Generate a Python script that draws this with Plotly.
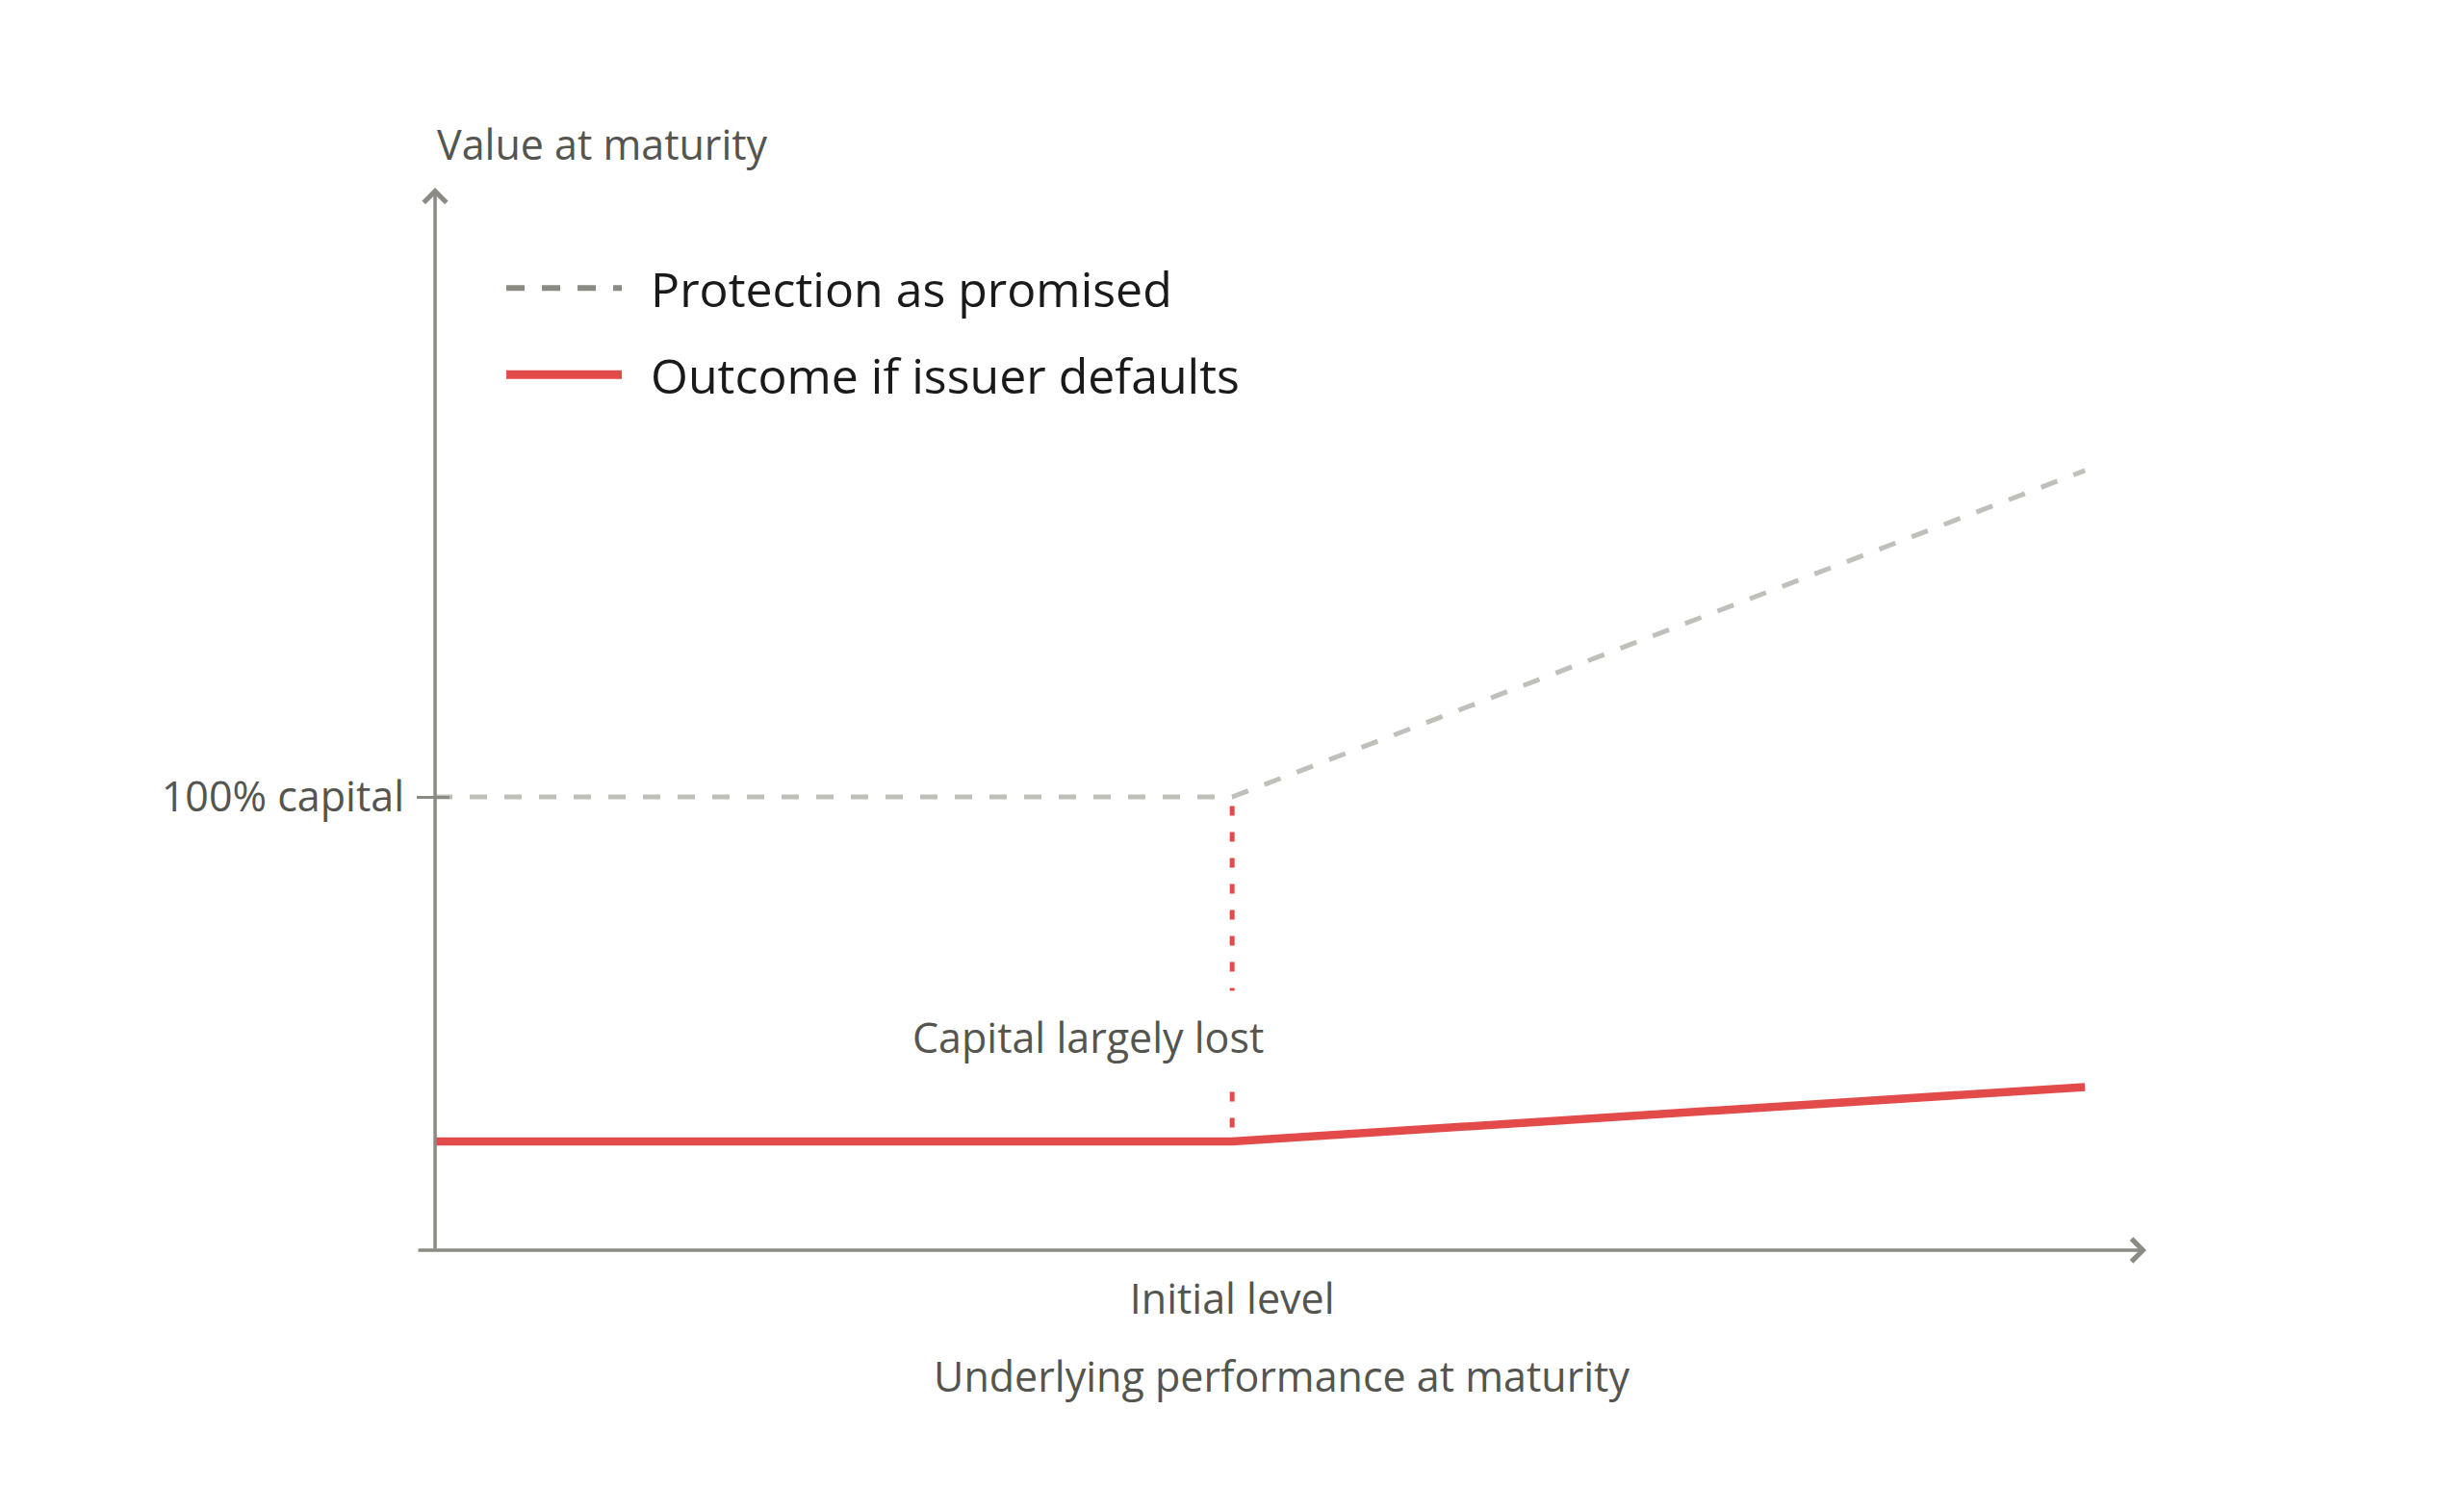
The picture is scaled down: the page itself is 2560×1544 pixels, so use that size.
import plotly.graph_objects as go

# ---- data ----
perf_x = [-100, 0, 107]            # underlying performance (origin, initial level, right end)
promised_y = [100, 100, 172]       # protection as promised
default_y = [24, 24, 36]           # outcome if issuer defaults
gap_x = [0, 0]                     # dotted gap marker at the initial level
gap_y = [98, 26]
x_tick_vals = [0]
x_tick_text = ["Initial level"]
y_tick_vals = [100]
y_tick_text = ["100% capital"]
series_names = ["Protection as promised", "Outcome if issuer defaults"]

FONT = "Open Sans"
TXT = "#55554f"
AXIS = "#8b8b83"
RED = "#e34b4b"
LIGHT = "#c0c0bb"
FS = 43

X_RANGE = [-102.3, 114.7]
Y_RANGE = [0, 234.4]

fig = go.Figure()

# main lines
fig.add_trace(go.Scatter(x=perf_x, y=promised_y, mode="lines", showlegend=False,
                         line=dict(color=LIGHT, width=5, dash="18px,18px"), hoverinfo="skip"))
fig.add_trace(go.Scatter(x=gap_x, y=gap_y, mode="lines", showlegend=False,
                         line=dict(color=RED, width=5, dash="10px,17px"), hoverinfo="skip"))
fig.add_trace(go.Scatter(x=perf_x, y=default_y, mode="lines", showlegend=False,
                         line=dict(color=RED, width=8.5), hoverinfo="skip"))

# legend entries
fig.add_trace(go.Scatter(x=[None], y=[None], mode="lines", name="\u2002" + series_names[0],
                         legendgroup="a", line=dict(color=AXIS, width=6, dash="19px,18px")))
fig.add_trace(go.Scatter(x=[None], y=[None], mode="lines", name="\u2002" + series_names[1],
                         legendgroup="b", line=dict(color=RED, width=9)))

# axes arrows
fig.add_annotation(x=X_RANGE[1], y=0, ax=X_RANGE[0], ay=0, xref="x", yref="y",
                   axref="x", ayref="y", text="", showarrow=True, arrowhead=4,
                   arrowsize=1.3, arrowwidth=3.5, arrowcolor=AXIS, standoff=0)
fig.add_annotation(x=-100, y=Y_RANGE[1], ax=-100, ay=0, xref="x", yref="y",
                   axref="x", ayref="y", text="", showarrow=True, arrowhead=4,
                   arrowsize=1.3, arrowwidth=3.5, arrowcolor=AXIS, standoff=0)

# labels
fig.add_annotation(x=-100, y=1.0408, xref="x", yref="paper", text="Value at maturity",
                   showarrow=False, xanchor="left", yanchor="middle",
                   font=dict(family=FONT, size=FS, color=TXT))
fig.add_annotation(x=-18.1, y=47.1, xref="x", yref="y", text="Capital largely lost",
                   showarrow=False, xanchor="center", yanchor="middle",
                   bgcolor="white", borderpad=18,
                   font=dict(family=FONT, size=FS, color=TXT))

fig.update_layout(
    width=2560, height=1544,
    paper_bgcolor="white", plot_bgcolor="white",
    margin=dict(l=433, r=330, t=195, b=245, pad=0, autoexpand=False),
    font=dict(family=FONT, color=TXT),
    showlegend=True,
    legend=dict(x=0.049, y=0.941, xref="paper", yref="paper", xanchor="left", yanchor="top",
                font=dict(family=FONT, size=50, color="#1a1a1a"),
                itemwidth=120, tracegroupgap=22, traceorder="grouped",
                bgcolor="rgba(0,0,0,0)"),
    xaxis=dict(range=X_RANGE, showgrid=False, zeroline=False, showline=False,
               tickvals=x_tick_vals, ticktext=x_tick_text, ticks="",
               ticklabelstandoff=22,
               tickfont=dict(family=FONT, size=FS, color=TXT),
               title=dict(text="Underlying performance at maturity", standoff=38,
                          font=dict(family=FONT, size=FS, color=TXT))),
    yaxis=dict(range=Y_RANGE, showgrid=False, zeroline=False, showline=False,
               tickvals=y_tick_vals, ticktext=y_tick_text, ticks="inside",
               ticklen=34, tickwidth=3, tickcolor=AXIS, ticklabelstandoff=12,
               tickfont=dict(family=FONT, size=FS, color=TXT)),
)

fig.write_html("out.html")
